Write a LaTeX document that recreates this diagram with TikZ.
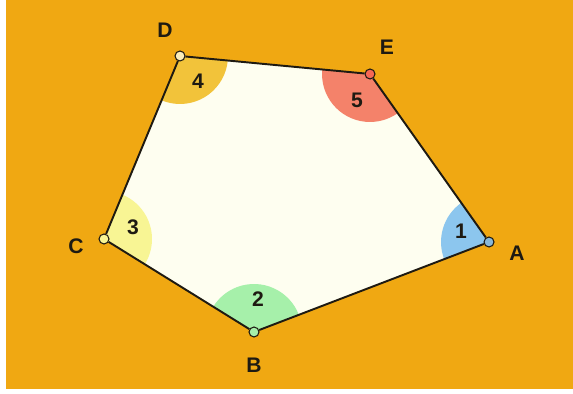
\documentclass[tikz,border=0pt]{standalone}
\usepackage{fontspec}
\setmainfont{Liberation Sans}
\usetikzlibrary{angles}

\definecolor{bgorange}{HTML}{F0A812}
\definecolor{paper}{HTML}{FEFEF0}
\definecolor{angblue}{HTML}{8CC6EE}
\definecolor{anggreen}{HTML}{A6F0AA}
\definecolor{angyellow}{HTML}{F8F594}
\definecolor{anggold}{HTML}{F2C33A}
\definecolor{angred}{HTML}{F4826A}
\definecolor{ink}{HTML}{1E1A12}

\begin{document}
\begin{tikzpicture}[x=0.02cm, y=0.02cm,
    edge/.style={draw=ink, line width=1.1pt},
    vertex/.style={circle, draw=ink, line width=0.6pt, inner sep=0pt, minimum size=0.2cm},
    lbl/.style={font=\fontsize{12}{14}\selectfont\bfseries, text=ink},
    sector/.style={draw=none, angle radius=0.96cm}]
        % background
        \fill[white] (0,0) rectangle (573,394);
        \fill[bgorange] (6,5) rectangle (573,394);

        \coordinate (pA) at (489,152);
        \coordinate (pB) at (254,62);
        \coordinate (pC) at (104,155);
        \coordinate (pD) at (180,338);
        \coordinate (pE) at (370,320);

        \fill[paper] (pA) -- (pE) -- (pD) -- (pC) -- (pB) -- cycle;

        % angle sectors
        \pic[sector, fill=angblue] {angle=pE--pA--pB};
        \pic[sector, fill=anggreen] {angle=pA--pB--pC};
        \pic[sector, fill=angyellow] {angle=pB--pC--pD};
        \pic[sector, fill=anggold] {angle=pC--pD--pE};
        \pic[sector, fill=angred] {angle=pD--pE--pA};

        \node[vertex, fill=angblue!80!gray] (A) at (pA) {};
        \node[vertex, fill=anggreen] (B) at (pB) {};
        \node[vertex, fill=angyellow] (C) at (pC) {};
        \node[vertex, fill=paper!70!anggold] (D) at (pD) {};
        \node[vertex, fill=angred!80!red] (E) at (pE) {};

        \draw[edge] (A) -- (E);
        \draw[edge] (E) -- (D);
        \draw[edge] (D) -- (C);
        \draw[edge] (C) -- (B);
        \draw[edge] (B) -- (A);

        \node[lbl] (nA) at (517,141) {A};
        \node[lbl] (nB) at (254,29) {B};
        \node[lbl] (nC) at (76,148) {C};
        \node[lbl] (nD) at (165,364) {D};
        \node[lbl] (nE) at (387,347) {E};

        \node[lbl] (n1) at (461,163) {1};
        \node[lbl] (n2) at (258,95) {2};
        \node[lbl] (n3) at (133,167) {3};
        \node[lbl] (n4) at (198,313) {4};
        \node[lbl] (n5) at (357,294) {5};
    \end{tikzpicture}
\end{document}
